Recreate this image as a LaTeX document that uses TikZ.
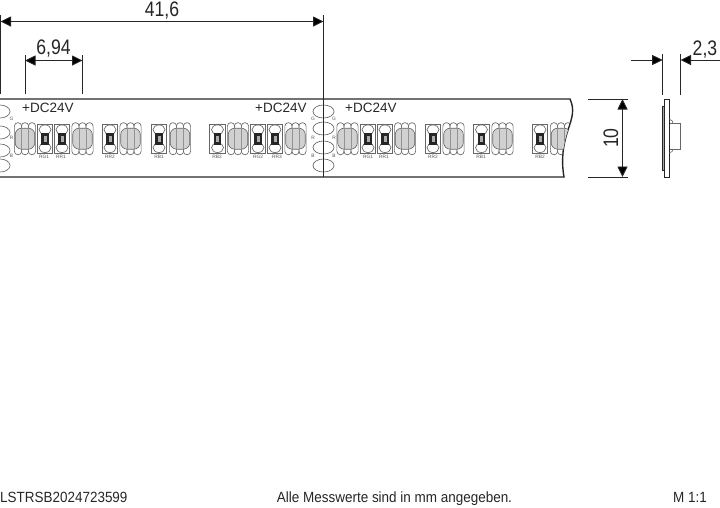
\documentclass[tikz,border=0pt]{standalone}
\usepackage{fontspec}
\setmainfont{Liberation Sans}
\newfontfamily\dimfont[FakeStretch=0.84]{Liberation Sans}
\newfontfamily\footfont[FakeStretch=0.91]{Liberation Sans}
\usetikzlibrary{arrows.meta}
\definecolor{ink}{gray}{0.15}
\definecolor{ledgrey}{gray}{0.82}
\tikzset{
  strip/.style={draw=ink,line width=1.4pt},
  thin part/.style={draw=ink!70,line width=0.65pt},
  ext/.style={draw=ink,line width=0.9pt},
  dimline/.style={draw=ink,line width=0.9pt,{Triangle[length=10.5pt,width=10pt,fill=black]}-{Triangle[length=10.5pt,width=10pt,fill=black]}},
  dimlabel/.style={font=\dimfont\fontsize{21}{21}\selectfont,text=ink,inner sep=0pt,anchor=base},
  powerlabel/.style={font=\fontsize{13.5}{14}\selectfont,text=ink,inner sep=0pt,anchor=base west},
  tiny/.style={font=\fontsize{4.8}{5}\selectfont,text=ink!80,inner sep=0pt},
  foot/.style={font=\footfont\fontsize{14.8}{15}\selectfont,text=ink,inner sep=0pt},
}
\newcommand{\ledpart}[1]{%
  \begin{scope}[shift={(#1,138.7)}]
    \foreach \o in {-7,0,7}{
      \draw[thin part,rounded corners=3.4pt] (\o-3.6,-16) rectangle (\o+3.6,16);
    }
    \draw[thin part,fill=ledgrey,rounded corners=6.5pt] (-9.8,-10.5) rectangle (9.8,10.5);
    \draw[thin part,draw=ink!50] (-3.6,-10.5) -- (-3.6,10.5) (3.6,-10.5) -- (3.6,10.5);
  \end{scope}}
\newcommand{\respart}[1]{%
  \begin{scope}[shift={(#1,138.7)}]
    \draw[thin part,fill=white] (-7.8,-14.3) rectangle (7.8,14.3);
    \draw[thin part,fill=white] (0,-9) ellipse (6 and 4.8);
    \draw[thin part,fill=white] (0,9) ellipse (6 and 4.8);
    \fill[black!85] (-3.6,-6) rectangle (3.6,6);
    \fill[gray!65] (-1.5,-3) rectangle (1.5,3);
  \end{scope}}
\begin{document}
\begin{tikzpicture}[x=1pt,y=-1pt]
\useasboundingbox (0,0) rectangle (720,507);
% strip outline
\coordinate (stripTL) at (0,99);
\coordinate (stripTR) at (570,99);
\coordinate (stripBR) at (564,177);
\coordinate (stripBL) at (0,177);
\draw[strip] (stripBL) -- (stripBR) .. controls (561,160) and (563,145) .. (568,130) .. controls (572,118) and (575,110) .. (stripTR) -- (stripTL);
% LEDs
\begin{scope}
  \clip (0,99) -- (570,99) .. controls (575,110) and (572,118) .. (568,130) .. controls (563,145) and (561,160) .. (564,177) -- (0,177) -- cycle;
  \foreach \x in {25,82.5,130.5,180,238,295.5,347.5,405,453.5,502.5,561}{\ledpart{\x}}
\end{scope}
\foreach \x in {45,62,110,159,217.5,258,275,368,385,433,481.5,540}{\respart{\x}}
% left pads
\foreach \y in {111.5,132.5,150.5,165.5}{
  \draw[thin part] (0,\y-6.5) arc[start angle=-90,end angle=90,x radius=10,y radius=6.5];
}
% middle pads
\foreach \y in {111.5,128.5,147.5,165.5}{
  \draw[thin part] (323.5,\y) ellipse (10.5 and 6.5);
}
% pad labels
\foreach \y/\t in {119/G,137.5/R,155.5/B}{
  \node[tiny] at (11.5,\y) {\t};
  \node[tiny] at (313,\y) {\t};
  \node[tiny] at (334,\y) {\t};
}
% part labels
\foreach \x/\t in {44/RG1,61/RR1,110/RR2,159/RB1,217/RB2,258/RG2,277/RR3,368/RG1,384/RR1,433/RR2,481/RB1,540/RB2}{
  \node[tiny] at (\x,157) {\t};
}
\node[powerlabel] (p1) at (22,112.6) {+DC24V};
\node[powerlabel] (p2) at (255,112.6) {+DC24V};
\node[powerlabel] (p3) at (345,112.6) {+DC24V};
% 41,6
\coordinate (a0) at (0.5,15);
\coordinate (a1) at (0.5,94);
\coordinate (b0) at (323.5,15);
\coordinate (b1) at (323.5,177);
\draw[ext] (a0) -- (a1);
\draw[ext] (b0) -- (b1);
\coordinate (aD) at (0.5,21.5);
\coordinate (bD) at (323.5,21.5);
\draw[dimline] (aD) -- (bD);
\node[dimlabel] (d1) at (162,16.5) {41,6};
% 6,94
\coordinate (c0) at (25,55);
\coordinate (c1) at (25,94);
\coordinate (e0) at (82.5,55);
\coordinate (e1) at (82.5,94);
\draw[ext] (c0) -- (c1);
\draw[ext] (e0) -- (e1);
\coordinate (cD) at (25,60.5);
\coordinate (eD) at (82.5,60.5);
\draw[dimline] (cD) -- (eD);
\node[dimlabel] (d2) at (53.5,54.7) {6,94};
% 10
\coordinate (f0) at (588,99);
\coordinate (f1) at (628,99);
\coordinate (g0) at (588,177);
\coordinate (g1) at (628,177);
\draw[ext] (f0) -- (f1);
\draw[ext] (g0) -- (g1);
\coordinate (fD) at (622.5,99);
\coordinate (gD) at (622.5,177);
\draw[dimline] (fD) -- (gD);
\node[dimlabel,rotate=90] (d3) at (618,138) {10};
% side view
\draw[strip,line width=0.9pt] (664.3,99.5) rectangle (669.5,177);
\draw[ink,fill=gray!70,line width=0.5pt] (661.8,106) rectangle (664.3,170);
\draw[thin part] (669.5,123) -- (680.5,123) -- (680.5,149) -- (669.5,149);
\draw[thin part] (669.5,119.5) .. controls (672,119.5) and (672.8,121.5) .. (672.8,123);
\draw[thin part] (669.5,152.7) .. controls (672,152.7) and (672.8,151) .. (672.8,149);
% 2,3
\coordinate (h0) at (662.7,54);
\coordinate (h1) at (662.7,95);
\coordinate (i0) at (680.5,54);
\coordinate (i1) at (680.5,95);
\draw[ext] (h0) -- (h1);
\draw[ext] (i0) -- (i1);
\coordinate (hL) at (631,60);
\coordinate (hD) at (662.7,60);
\coordinate (iD) at (680.5,60);
\coordinate (iR) at (720,60);
\draw[ext,-{Triangle[length=10.5pt,width=10pt,fill=black]}] (hL) -- (hD);
\draw[ext,-{Triangle[length=10.5pt,width=10pt,fill=black]}] (iR) -- (iD);
\node[dimlabel] (d4) at (705,55.3) {2,3};
% footer
\node[foot,anchor=base west] (f-a) at (0,502.3) {LSTRSB2024723599};
\node[foot,anchor=base] (f-b) at (394.5,502.3) {Alle Messwerte sind in mm angegeben.};
\node[foot,anchor=base east] (f-c) at (707,502.3) {M 1:1};
\end{tikzpicture}
\end{document}
